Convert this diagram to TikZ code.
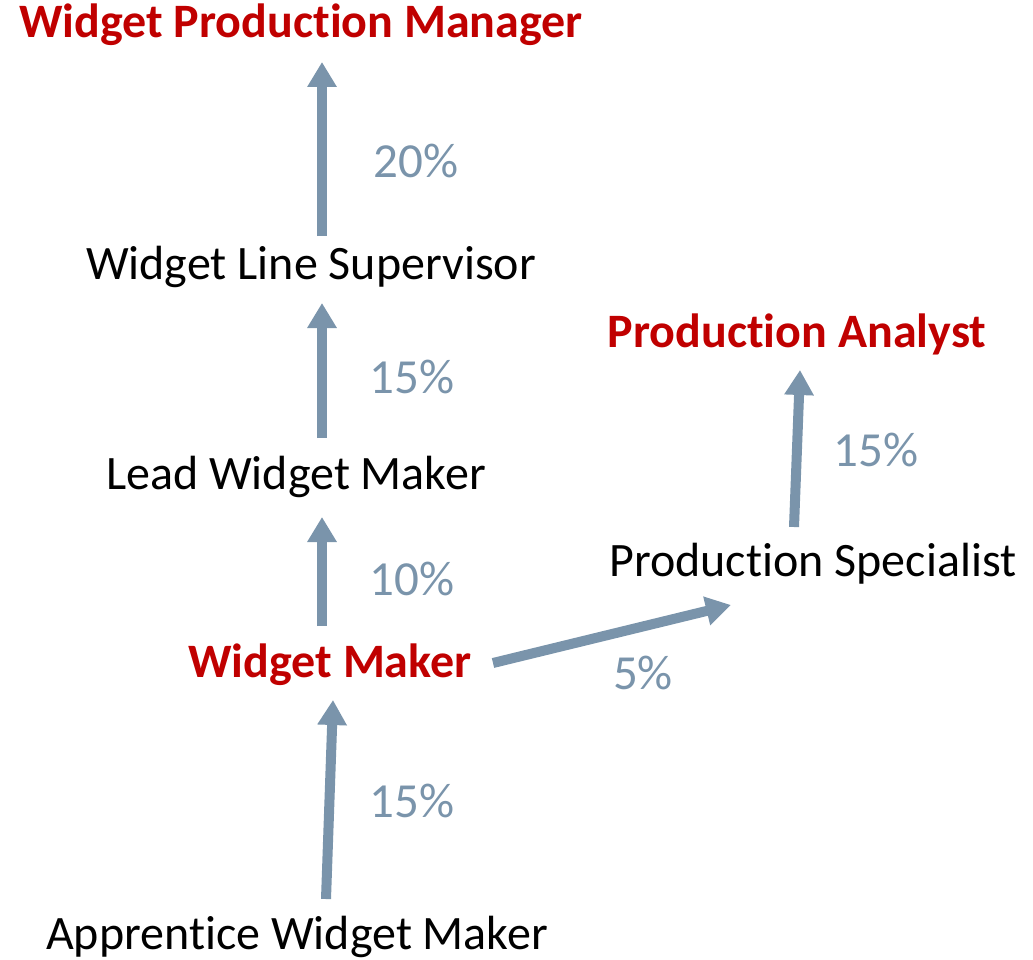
\documentclass[tikz,border=0pt]{standalone}
\usepackage{fontspec}
\setmainfont{Carlito}
\usetikzlibrary{arrows.meta}
\definecolor{arr}{HTML}{7A94AB}
\definecolor{redt}{HTML}{C00000}
\newcommand\nolig{\kern0pt\relax}
\begin{document}
\begin{tikzpicture}[x=1pt,y=-1pt,
  job/.style={inner sep=0pt, font=\fontsize{48}{56}\selectfont, text=black},
  key/.style={job, font=\fontsize{48}{56}\selectfont\bfseries, text=redt},
  pct/.style={inner sep=0pt, font=\fontsize{49}{56}\selectfont, text=arr},
  up/.style={draw=arr, line width=10pt, -{Triangle[width=28pt,length=25pt]}}]
\useasboundingbox (0,0) rectangle (1033,960);
\node[key] (wpm) at (301,25) {Widget Product\nolig ion Manager};
\node[job] (wls) at (311,267) {Widget Line Supervisor};
\node[job] (lwm) at (296,477) {Lead Widget Maker};
\node[key] (wm) at (330,665) {Widget Maker};
\node[job] (awm) at (297,937) {Apprent\nolig ice Widget Maker};
\node[job] (ps) at (813,564) {Product\nolig ion Specialist};
\node[key] (pa) at (797,334) {Product\nolig ion Analyst};
\coordinate (a1s) at (322,236); \coordinate (a1e) at (322,62);
\coordinate (a2s) at (322,438); \coordinate (a2e) at (322,303);
\coordinate (a3s) at (322,626); \coordinate (a3e) at (322,517);
\coordinate (a4s) at (326,899); \coordinate (a4e) at (333,700);
\coordinate (a5s) at (493,663); \coordinate (a5e) at (731,605);
\coordinate (a6s) at (794,527); \coordinate (a6e) at (800,370);
\draw[up] (a1s) -- (a1e);
\draw[up] (a2s) -- (a2e);
\draw[up] (a3s) -- (a3e);
\draw[up] (a4s) -- (a4e);
\draw[up] (a5s) -- (a5e);
\draw[up] (a6s) -- (a6e);
\node[pct] (p1) at (416,161) {20\%};
\node[pct] (p2) at (412,377) {15\%};
\node[pct] (p3) at (412,579) {10\%};
\node[pct] (p4) at (412,801) {15\%};
\node[pct] (p5) at (643,673) {5\%};
\node[pct] (p6) at (876,450) {15\%};
\end{tikzpicture}
\end{document}
